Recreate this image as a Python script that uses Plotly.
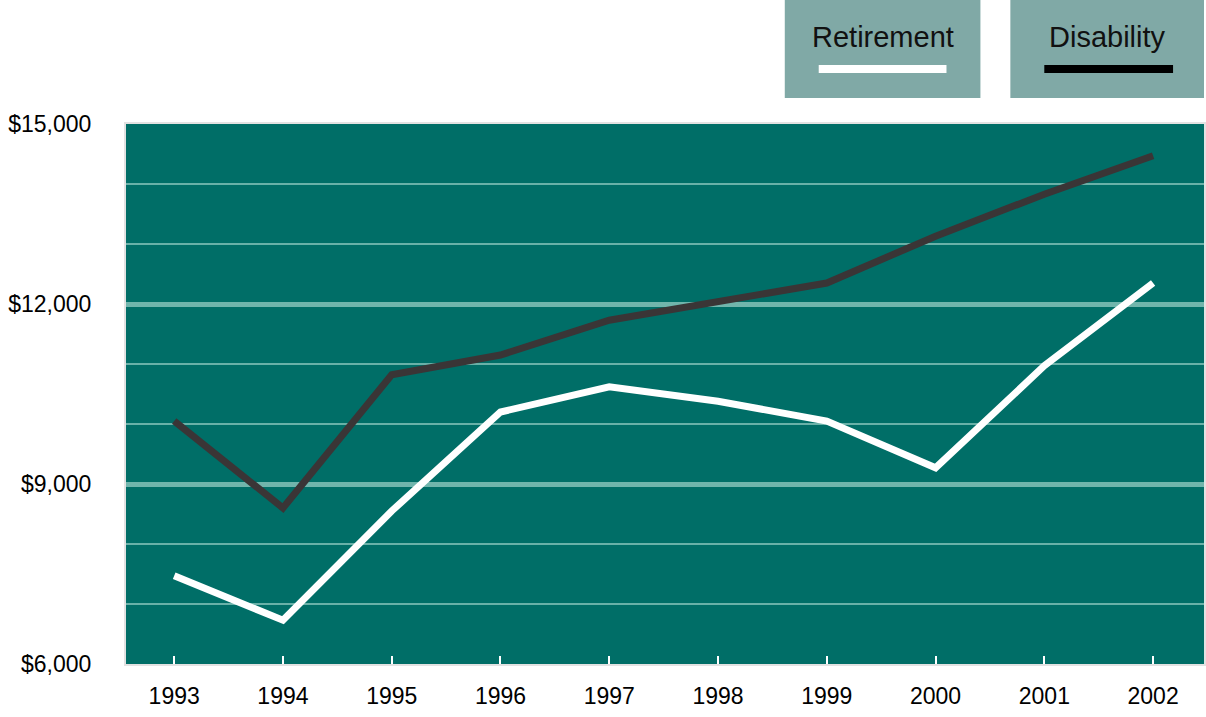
import plotly.graph_objects as go

years = [1993, 1994, 1995, 1996, 1997, 1998, 1999, 2000, 2001, 2002]
retirement = [7470, 6730, 8550, 10200, 10620, 10380, 10050, 9270, 10970, 12350]
disability = [10050, 8600, 10820, 11150, 11730, 12050, 12350, 13130, 13830, 14470]
y_label_vals = [6000, 9000, 12000, 15000]
y_label_text = ["$6,000", "$9,000", "$12,000", "$15,000"]
minor_grid = [7000, 8000, 10000, 11000, 13000, 14000]
major_grid = [9000, 12000]

FONT = "Liberation Sans, Arial, sans-serif"
BOX = "#80a9a6"

fig = go.Figure()
# invisible trace on second axis for the heavier gridlines
fig.add_trace(go.Scatter(x=[years[0]], y=[major_grid[0]], yaxis="y2",
                         mode="markers", marker=dict(opacity=0), showlegend=False,
                         hoverinfo="skip"))
fig.add_trace(go.Scatter(x=years, y=disability, mode="lines",
                         line=dict(color="#3a3536", width=7), showlegend=False))
fig.add_trace(go.Scatter(x=years, y=retirement, mode="lines",
                         line=dict(color="white", width=7), showlegend=False))

fig.update_layout(
    width=1206, height=717,
    margin=dict(l=126, r=0, t=124, b=53),
    paper_bgcolor="white",
    plot_bgcolor="#006e67",
    font=dict(family=FONT, size=23, color="black"),
    xaxis=dict(range=[1992.557, 2002.468], tickvals=years, ticks="inside",
               ticklen=8, tickwidth=2, tickcolor="white", showgrid=False,
               zeroline=False, showline=True, linecolor="#e2e2e2", linewidth=2,
               mirror=True, ticklabelstandoff=10),
    yaxis=dict(range=[6000, 15000], tickvals=y_label_vals, ticktext=y_label_text,
               showgrid=False, zeroline=False, ticks="", ticklabelstandoff=28,
               showline=True, linecolor="#e2e2e2", linewidth=2, mirror=True,
               minor=dict(tickvals=minor_grid, showgrid=True,
                          gridcolor="rgba(140,200,190,0.75)", gridwidth=2, ticks="")),
    yaxis2=dict(range=[6000, 15000], overlaying="y", tickvals=major_grid,
                showticklabels=False, showgrid=True, gridwidth=5,
                gridcolor="rgba(150,205,195,0.75)", zeroline=False,
                layer="below traces"),
)

# legend boxes
def ytop(py):
    return (664 - py) / 540
def xp(px):
    return (px - 126) / 1080

for (x0, x1, label, col, lx0, lx1) in [
    (786, 982, "Retirement", "white", 820, 948),
    (1012, 1206, "Disability", "black", 1046, 1175),
]:
    fig.add_shape(type="rect", xref="paper", yref="paper", x0=xp(x0), x1=xp(x1),
                  y0=ytop(98), y1=ytop(0), fillcolor=BOX, line=dict(width=0))
    fig.add_shape(type="rect", xref="paper", yref="paper", x0=xp(lx0), x1=xp(lx1),
                  y0=ytop(73), y1=ytop(65), fillcolor=col, line=dict(width=0))
    fig.add_annotation(xref="paper", yref="paper", x=xp((x0 + x1) / 2), y=ytop(37),
                       text=label, showarrow=False, font=dict(size=29, color="#111"),
                       xanchor="center", yanchor="middle")

fig.write_html("out.html", config={"displayModeBar": False},
               post_script="document.body.style.margin='0';document.body.style.overflow='hidden';")
